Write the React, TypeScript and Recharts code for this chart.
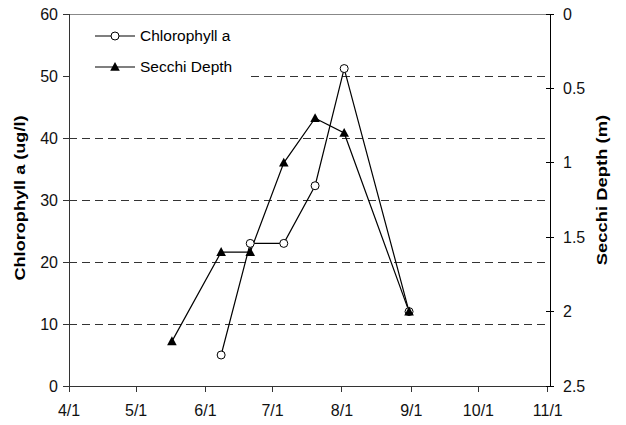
import { CartesianGrid, Label, Legend, Line, LineChart, ReferenceLine, XAxis, YAxis } from "recharts";

// sample dates (M/D) and readings
const SAMPLE_DATES = ["5/17", "6/8", "6/21", "7/6", "7/20", "8/2", "8/31"];
const CHLOROPHYLL = [null, 5, 23, 23, 32.3, 51.2, 12];
const SECCHI_DEPTH = [2.2, 1.6, 1.6, 1.0, 0.7, 0.8, 2.0];

const MONTH_TICKS = ["4/1", "5/1", "6/1", "7/1", "8/1", "9/1", "10/1", "11/1"];
const CHL_TICKS = [0, 10, 20, 30, 40, 50, 60];
const DEPTH_TICKS = [0, 0.5, 1, 1.5, 2, 2.5];

const FONT = "'Liberation Sans', Arial, sans-serif";
const TICK_FONT = 16;

// days since 4/1
const dayOfSeason = (md: string) => {
  const [m, d] = md.split("/").map(Number);
  return (Date.UTC(2001, m - 1, d) - Date.UTC(2001, 3, 1)) / 86400000;
};

const data = SAMPLE_DATES.map((d, i) => ({
  day: dayOfSeason(d),
  chl: CHLOROPHYLL[i],
  secchi: SECCHI_DEPTH[i],
}));

const monthTickValues = MONTH_TICKS.map(dayOfSeason);
const monthLabel = (v: number) => MONTH_TICKS[monthTickValues.indexOf(v)] ?? "";

const Triangle = ({ cx, cy }: { cx?: number; cy?: number }) => {
  if (cx == null || cy == null) return null;
  return <path d={`M${cx},${cy - 5} L${cx + 4.8},${cy + 3.8} L${cx - 4.8},${cy + 3.8} Z`} fill="#000" />;
};

const DepthTick = (props: any) => {
  const { x, y, payload } = props;
  return (
    <g>
      <line x1={x - 4} x2={x + 4} y1={y} y2={y} stroke="#000" shapeRendering="crispEdges" />
      <text x={x + 13} y={y} dy="0.35em" fontSize={TICK_FONT} fontFamily={FONT} fill="#111">
        {payload.value}
      </text>
    </g>
  );
};

// rotated bold title, stretched along its length like the original
const axisTitle = (text: string, dxFromLeft: number, shiftY: number, stretch: number) => (props: any) => {
  const vb = props.viewBox ?? { x: 0, y: 0, width: 0, height: 0 };
  const x = vb.x + dxFromLeft;
  const y = vb.y + vb.height / 2 + shiftY;
  return (
    <text
      x={0}
      y={0}
      transform={`translate(${x}, ${y}) rotate(-90) scale(${stretch}, 1)`}
      textAnchor="middle"
      dominantBaseline="central"
      fontSize={14.5}
      fontWeight="bold"
      fontFamily={FONT}
      fill="#000"
    >
      {text}
    </text>
  );
};

const LegendBox = (props: any) => {
  const items = props.payload ?? [];
  return (
    <div style={{ background: "#fff", width: 176, height: 64, fontFamily: FONT, fontSize: 15.5, color: "#000" }}>
      {items.map((it: any) => (
        <div key={it.dataKey} style={{ height: 31, display: "flex", alignItems: "center" }}>
          <svg width={70} height={20}>
            <line x1={25} x2={65} y1={10} y2={10} stroke="#000" strokeWidth={1.2} />
            {it.dataKey === "chl" ? (
              <circle cx={45} cy={10} r={4} fill="#fff" stroke="#000" />
            ) : (
              <Triangle cx={45} cy={10} />
            )}
          </svg>
          <span>{it.value}</span>
        </div>
      ))}
    </div>
  );
};

export default function App() {
  return (
    <div style={{ position: "absolute", left: 0, top: 0 }}>
      <LineChart width={626} height={425} data={data} margin={{ top: 14, right: 0, bottom: 0, left: 0 }}>
        <CartesianGrid
          yAxisId="chl"
          vertical={false}
          stroke="#333"
          strokeDasharray="8 5"
          shapeRendering="crispEdges"
        />
        <ReferenceLine yAxisId="chl" y={60} stroke="#888" shapeRendering="crispEdges" />
        <XAxis
          dataKey="day"
          type="number"
          height={39}
          domain={[0, 215]}
          ticks={monthTickValues}
          tickFormatter={monthLabel}
          interval={0}
          tickSize={6}
          tickMargin={13}
          axisLine={{ stroke: "#333", shapeRendering: "crispEdges" }}
          tickLine={{ stroke: "#333", shapeRendering: "crispEdges" }}
          tick={{ fontSize: TICK_FONT, fontFamily: FONT, fill: "#111" }}
        />
        <YAxis
          yAxisId="chl"
          width={69}
          domain={[0, 60]}
          ticks={CHL_TICKS}
          interval={0}
          tickSize={6}
          tickMargin={5}
          axisLine={{ stroke: "#333", shapeRendering: "crispEdges" }}
          tickLine={{ stroke: "#333", shapeRendering: "crispEdges" }}
          tick={{ fontSize: TICK_FONT, fontFamily: FONT, fill: "#111" }}
        >
          <Label content={axisTitle("Chlorophyll a (ug/l)", 20, -2, 1.25)} />
        </YAxis>
        <YAxis
          yAxisId="depth"
          orientation="right"
          width={76}
          domain={[0, 2.5]}
          reversed
          ticks={DEPTH_TICKS}
          interval={0}
          tickSize={0}
          tickMargin={0}
          tickLine={false}
          axisLine={{ stroke: "#000", shapeRendering: "crispEdges" }}
          tick={<DepthTick />}
        >
          <Label content={axisTitle("Secchi Depth (m)", 52, -10, 1.27)} />
        </YAxis>
        <Legend
          layout="vertical"
          align="center"
          verticalAlign="middle"
          content={<LegendBox />}
          wrapperStyle={{ left: 70, top: 20, width: 176, height: 64 }}
        />
        <Line
          yAxisId="chl"
          dataKey="chl"
          name="Chlorophyll a"
          stroke="#000"
          strokeWidth={1.2}
          dot={{ r: 4, fill: "#fff", stroke: "#000", strokeWidth: 1 }}
          isAnimationActive={false}
        />
        <Line
          yAxisId="depth"
          dataKey="secchi"
          name="Secchi Depth"
          stroke="#000"
          strokeWidth={1.2}
          dot={<Triangle />}
          isAnimationActive={false}
        />
      </LineChart>
    </div>
  );
}
